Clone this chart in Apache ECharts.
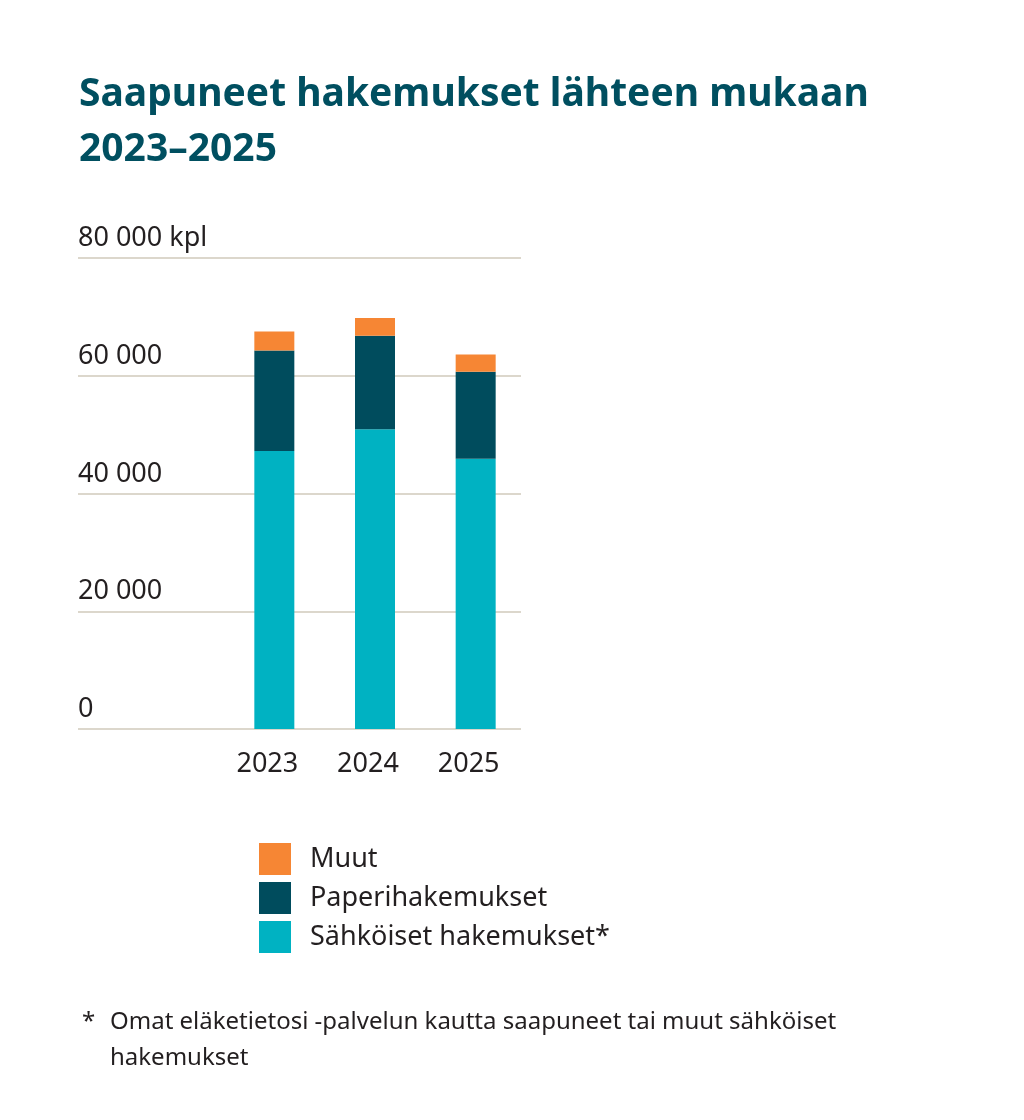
<!DOCTYPE html>
<html>
<head>
<meta charset="utf-8">
<script src="https://cdn.jsdelivr.net/npm/echarts@6/dist/echarts.min.js"></script>
<style>
  html, body { margin: 0; padding: 0; background: #fff; }
  #chart { width: 1024px; height: 1120px; }
</style>
</head>
<body>
<div id="chart"></div>
<script>
// values
let years = ['2023', '2024', '2025'];
let sahkoiset = [47200, 50900, 45900];
let paperi = [17100, 15900, 14800];
let muut = [3200, 3000, 2900];
let yTickLabels = ['0', '20 000', '40 000', '60 000', '80 000 kpl'];
let seriesNames = ['Sähköiset hakemukset*', 'Paperihakemukset', 'Muut'];

var font = '"Noto Sans", sans-serif';
var textColor = '#231f20';

let chart = echarts.init(document.getElementById('chart'));

let conf = {
    backgroundColor: '#fff',
    animation: false,
    title: [
        {
            text: 'Saapuneet hakemukset lähteen mukaan\n2023–2025',
            left: 74,
            top: 62,
            textStyle: {
                fontFamily: font,
                fontSize: 39,
                fontWeight: 'bold',
                color: '#004f60',
                lineHeight: 55
            }
        },
        {
            text: '*',
            left: 77,
            top: 999,
            textStyle: { fontFamily: font, fontSize: 24, fontWeight: 'normal', color: textColor, lineHeight: 36 }
        },
        {
            text: 'Omat eläketietosi -palvelun kautta saapuneet tai muut sähköiset\nhakemukset',
            left: 105,
            top: 999,
            textStyle: { fontFamily: font, fontSize: 24, fontWeight: 'normal', color: textColor, lineHeight: 36 }
        }
    ],
    legend: {
        orient: 'vertical',
        left: 259,
        top: 843,
        padding: 0,
        itemWidth: 32,
        itemHeight: 32,
        itemGap: 7,
        icon: 'rect',
        data: ['Muut', 'Paperihakemukset', 'Sähköiset hakemukset*'],
        textStyle: {
            fontFamily: font,
            fontSize: 27,
            color: textColor,
            padding: [0, 0, 0, 14]
        }
    },
    grid: [
        // axis grid: gridlines and y labels
        { left: 78, top: 258, width: 443, height: 471 },
        // bar grid
        { left: 224, top: 258, width: 302, height: 471 }
    ],
    xAxis: [
        {
            gridIndex: 0,
            type: 'category',
            data: years,
            show: false
        },
        {
            gridIndex: 1,
            type: 'category',
            data: years,
            axisLine: { show: false },
            axisTick: { show: false },
            axisLabel: {
                fontFamily: font,
                fontSize: 27,
                color: textColor,
                margin: 22,
                padding: [0, 14, 0, 0]
            }
        }
    ],
    yAxis: [
        {
            gridIndex: 0,
            type: 'value',
            min: 0,
            max: 80000,
            interval: 20000,
            axisLine: { show: false },
            axisTick: { show: false },
            splitLine: { lineStyle: { color: '#dcd7cc', width: 2 } },
            axisLabel: {
                inside: true,
                margin: 0,
                verticalAlign: 'bottom',
                fontFamily: font,
                fontSize: 27,
                color: textColor,
                padding: [0, 0, 6, 0],
                formatter: function (v) {
                    return yTickLabels[Math.round(v / 20000)];
                }
            }
        },
        {
            gridIndex: 1,
            type: 'value',
            min: 0,
            max: 80000,
            interval: 20000,
            show: false,
            splitLine: { show: false }
        }
    ],
    series: [
        {
            name: seriesNames[0],
            type: 'bar',
            stack: 'total',
            xAxisIndex: 1,
            yAxisIndex: 1,
            barWidth: 40,
            itemStyle: { color: '#00b2c2' },
            data: sahkoiset
        },
        {
            name: seriesNames[1],
            type: 'bar',
            stack: 'total',
            xAxisIndex: 1,
            yAxisIndex: 1,
            barWidth: 40,
            itemStyle: { color: '#004c5d' },
            data: paperi
        },
        {
            name: seriesNames[2],
            type: 'bar',
            stack: 'total',
            xAxisIndex: 1,
            yAxisIndex: 1,
            barWidth: 40,
            itemStyle: { color: '#f68634' },
            data: muut
        }
    ]
};

chart.setOption(conf);
</script>
</body>
</html>
